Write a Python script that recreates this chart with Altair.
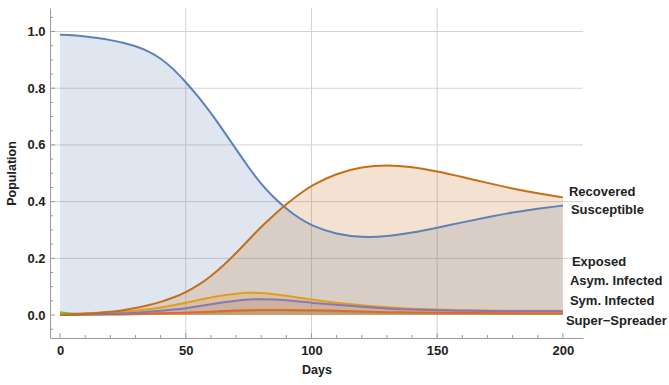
import altair as alt
import pandas as pd

days = [0, 5, 10, 15, 20, 25, 30, 35, 40, 45, 50, 55, 60, 65, 70, 75, 80, 85, 90, 95, 100,
        110, 120, 130, 140, 150, 160, 170, 180, 190, 200]

susceptible = [0.989, 0.987, 0.983, 0.977, 0.970, 0.961, 0.949, 0.931, 0.906, 0.869, 0.822, 0.770, 0.713, 0.650, 0.585, 0.520, 0.462, 0.414, 0.375, 0.342, 0.315,
               0.284, 0.274, 0.277, 0.290, 0.308, 0.327, 0.345, 0.362, 0.375, 0.386]
exposed = [0.003, 0.004, 0.006, 0.008, 0.010, 0.012, 0.015, 0.020, 0.026, 0.034, 0.043, 0.053, 0.062, 0.070, 0.076, 0.079, 0.078, 0.074, 0.068, 0.061, 0.055,
           0.043, 0.034, 0.027, 0.022, 0.019, 0.017, 0.016, 0.015, 0.015, 0.015]
asym_infected = [0.010, 0.004, 0.002, 0.002, 0.002, 0.002, 0.003, 0.004, 0.005, 0.006, 0.007, 0.008, 0.010, 0.012, 0.014, 0.015, 0.016, 0.016, 0.016, 0.015, 0.015,
                 0.013, 0.010, 0.008, 0.007, 0.006, 0.005, 0.005, 0.004, 0.004, 0.004]
sym_infected = [0.000, 0.001, 0.001, 0.002, 0.003, 0.003, 0.004, 0.005, 0.006, 0.007, 0.008, 0.010, 0.012, 0.014, 0.016, 0.017, 0.018, 0.018, 0.018, 0.017, 0.017,
                0.015, 0.012, 0.010, 0.009, 0.008, 0.007, 0.007, 0.006, 0.006, 0.006]
super_spreader = [0.000, 0.001, 0.002, 0.003, 0.004, 0.006, 0.008, 0.011, 0.015, 0.019, 0.024, 0.031, 0.038, 0.045, 0.051, 0.055, 0.056, 0.055, 0.052, 0.048, 0.043,
                  0.036, 0.029, 0.023, 0.019, 0.017, 0.015, 0.014, 0.013, 0.013, 0.013]
recovered = [0.000, 0.002, 0.004, 0.007, 0.011, 0.017, 0.024, 0.034, 0.046, 0.061, 0.080, 0.105, 0.137, 0.175, 0.218, 0.265, 0.311, 0.353, 0.391, 0.426, 0.457,
             0.500, 0.523, 0.530, 0.523, 0.507, 0.487, 0.466, 0.446, 0.429, 0.415]

series_names = ["Susceptible", "Exposed", "Asym. Infected", "Sym. Infected", "Super\u2212Spreader", "Recovered"]
series_values = [susceptible, exposed, asym_infected, sym_infected, super_spreader, recovered]
series_colors = ["#5E81B5", "#E19C24", "#8FB032", "#EB6235", "#8778B3", "#C56E1A"]

label_texts = ["Recovered", "Susceptible", "Exposed", "Asym. Infected", "Sym. Infected", "Super\u2212Spreader"]
label_days = [202.4, 203.2, 203.6, 202.8, 202.8, 201.2]
label_vals = [0.435, 0.371, 0.188, 0.120, 0.051, -0.021]

x_major = [0, 50, 100, 150, 200]
x_minor = [10, 20, 30, 40, 60, 70, 80, 90, 110, 120, 130, 140, 160, 170, 180, 190]
y_major = [0.0, 0.2, 0.4, 0.6, 0.8, 1.0]
y_minor = [-0.05, 0.05, 0.1, 0.15, 0.25, 0.3, 0.35, 0.45, 0.5, 0.55, 0.65, 0.7, 0.75, 0.85, 0.9, 0.95, 1.05]
x_grid = [50, 100, 150]
y_grid = [0.2, 0.4, 0.6, 0.8, 1.0]

FONT = "Liberation Sans"
AXIS_GRAY = "#9a9a9a"
GRID_GRAY = "#d2d2d2"
W, H = 533, 330
INTERP = "basis"

xscale = alt.Scale(domain=[-4, 208], nice=False, zero=False)
yscale = alt.Scale(domain=[-0.081, 1.083], nice=False, zero=False)

x_axis = alt.Axis(values=x_major, ticks=False, grid=False, domainColor=AXIS_GRAY,
                  labelFont=FONT, labelFontWeight="bold", labelFontSize=13, labelColor="#222222",
                  labelPadding=6, title="Days", titleFont=FONT, titleFontSize=12.5,
                  titleFontWeight="bold", titleColor="#222222", titlePadding=6)
y_axis = alt.Axis(values=y_major, format=".1f", ticks=False, grid=False, domainColor=AXIS_GRAY,
                  labelFont=FONT, labelFontWeight="bold", labelFontSize=13, labelColor="#222222",
                  labelPadding=5, title="Population", titleFont=FONT, titleFontSize=12.5,
                  titleFontWeight="bold", titleColor="#222222", titlePadding=8)

layers = []

# grid lines
layers.append(alt.Chart(pd.DataFrame({"x": x_grid})).mark_rule(color=GRID_GRAY, strokeWidth=1).encode(
    x=alt.X("x:Q", scale=xscale, axis=x_axis)))
layers.append(alt.Chart(pd.DataFrame({"y": y_grid})).mark_rule(color=GRID_GRAY, strokeWidth=1).encode(
    y=alt.Y("y:Q", scale=yscale, axis=y_axis)))

frames = []
for name, vals in zip(series_names, series_values):
    frames.append(pd.DataFrame({"day": days, "value": vals, "series": name}))

# filled areas
for df, c in zip(frames, series_colors):
    layers.append(alt.Chart(df).mark_area(color=c, opacity=0.2, interpolate=INTERP).encode(
        x=alt.X("day:Q", scale=xscale, axis=x_axis),
        y=alt.Y("value:Q", scale=yscale, axis=y_axis, stack=None),
        y2=alt.datum(0)))

# lines
for df, c in zip(frames, series_colors):
    layers.append(alt.Chart(df).mark_line(color=c, strokeWidth=2, interpolate=INTERP).encode(
        x=alt.X("day:Q", scale=xscale, axis=x_axis),
        y=alt.Y("value:Q", scale=yscale, axis=y_axis)))

# inward ticks
layers.append(alt.Chart(pd.DataFrame({"x": x_major})).mark_rule(color=AXIS_GRAY).encode(
    x=alt.X("x:Q", scale=xscale, axis=x_axis), y=alt.value(H), y2=alt.value(H - 5)))
layers.append(alt.Chart(pd.DataFrame({"x": x_minor})).mark_rule(color=AXIS_GRAY).encode(
    x=alt.X("x:Q", scale=xscale, axis=x_axis), y=alt.value(H), y2=alt.value(H - 3)))
layers.append(alt.Chart(pd.DataFrame({"y": y_major})).mark_rule(color=AXIS_GRAY).encode(
    y=alt.Y("y:Q", scale=yscale, axis=y_axis), x=alt.value(0), x2=alt.value(5)))
layers.append(alt.Chart(pd.DataFrame({"y": y_minor})).mark_rule(color=AXIS_GRAY).encode(
    y=alt.Y("y:Q", scale=yscale, axis=y_axis), x=alt.value(0), x2=alt.value(3)))

# series labels
labels_df = pd.DataFrame({"label": label_texts, "day": label_days, "value": label_vals})
layers.append(alt.Chart(labels_df).mark_text(align="left", baseline="middle", font=FONT,
                                             fontSize=13, fontWeight="bold", color="#222222").encode(
    x=alt.X("day:Q", scale=xscale, axis=x_axis),
    y=alt.Y("value:Q", scale=yscale, axis=y_axis),
    text="label:N"))

chart = alt.layer(*layers).properties(
    width=W, height=H,
    padding={"left": 50, "top": 8, "right": 86, "bottom": 47},
    autosize="none",
    background="white",
).configure_view(stroke=None)

chart.save("out.html", embed_options={"renderer": "svg", "actions": False})
